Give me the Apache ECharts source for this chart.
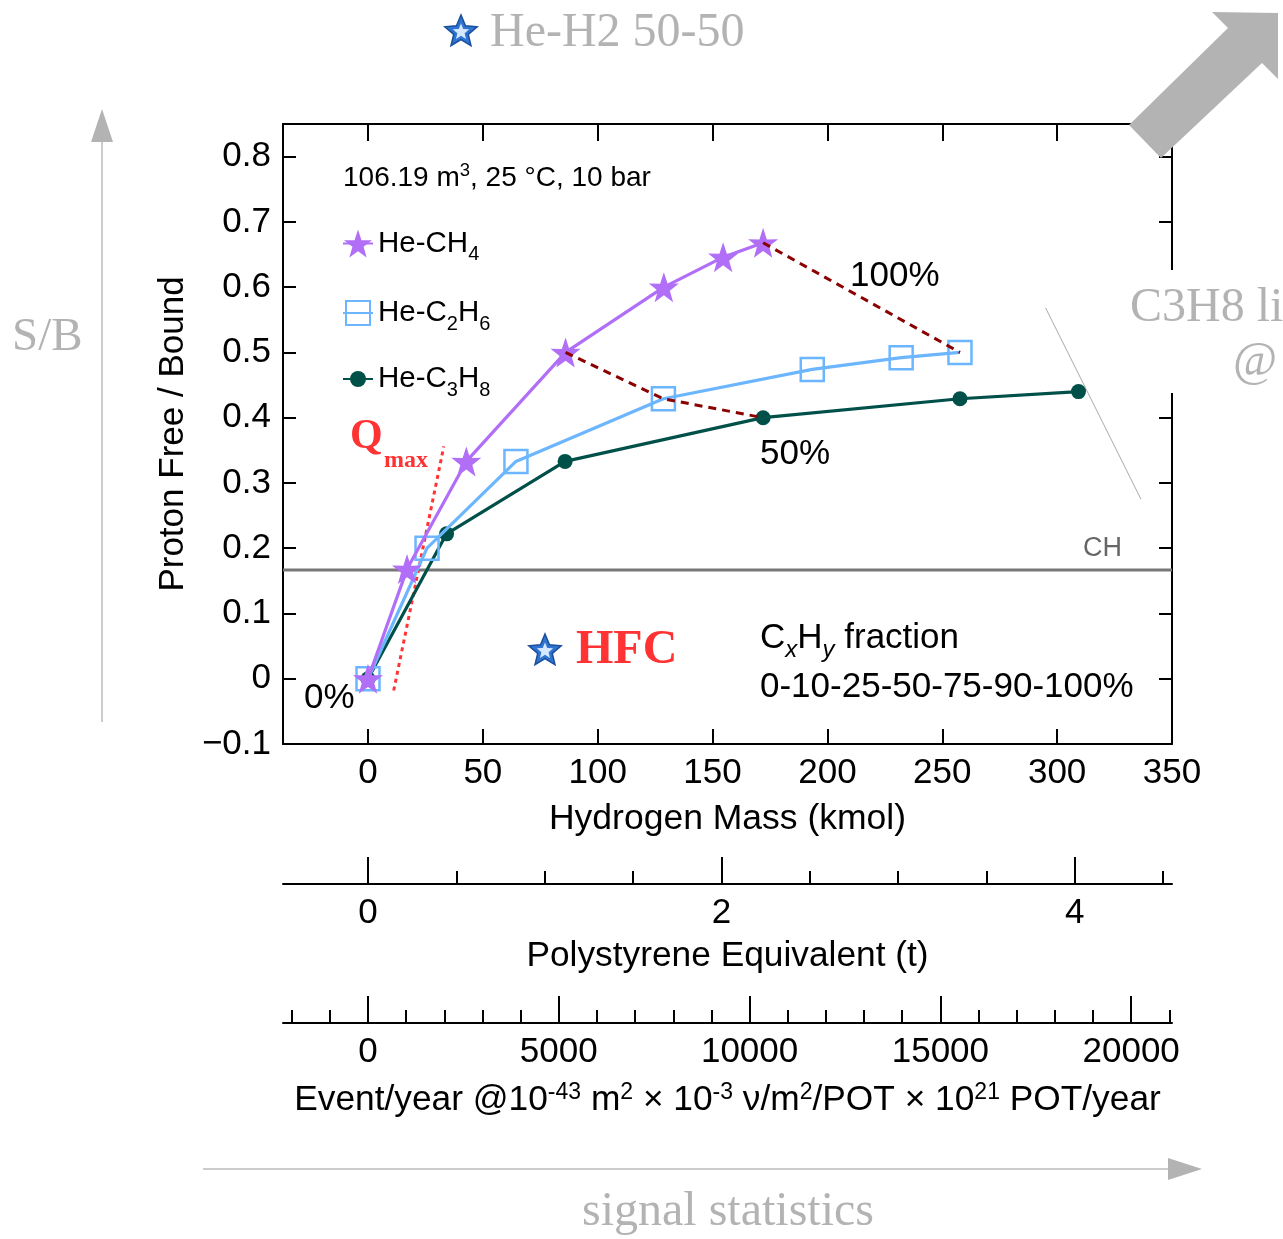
<!DOCTYPE html>
<html>
<head>
<meta charset="utf-8">
<script src="https://cdn.jsdelivr.net/npm/echarts@6/dist/echarts.min.js"></script>
<style>
  html, body { margin: 0; padding: 0; background: #fff; }
  #chart { width: 1283px; height: 1239px; }
</style>
</head>
<body>
<div id="chart"></div>
<script>
// axis ticks
const xTicks = [0, 50, 100, 150, 200, 250, 300, 350];
const yTicks = [-0.1, 0, 0.1, 0.2, 0.3, 0.4, 0.5, 0.6, 0.7, 0.8];
const psMajor = [0, 2, 4];
const psMinor = [0.5, 1, 1.5, 2.5, 3, 3.5, 4.5];
const evMajor = [0, 5000, 10000, 15000, 20000];
const evMinor = [-2000, -1000, 1000, 2000, 3000, 4000, 6000, 7000, 8000, 9000,
  11000, 12000, 13000, 14000, 16000, 17000, 18000, 19000, 21000];

// hydrogen mass (kmol) vs proton free / bound
const ch4X = [0, 17, 42.8, 86, 128.8, 154.6, 172];
const ch4Y = [0, 0.168, 0.333, 0.5, 0.6, 0.646, 0.668];
const c2h6X = [0, 25.7, 64.4, 128.6, 193.4, 232.1, 257.7];
const c2h6Y = [0, 0.2, 0.333, 0.429, 0.474, 0.492, 0.5];
const c3h8X = [0, 34.2, 85.8, 172, 257.7, 309.3];
const c3h8Y = [0, 0.222, 0.333, 0.4, 0.429, 0.44];

const qmaxX = [11.2, 33];
const qmaxY = [-0.018, 0.356];
const slantX = [295, 336.5];
const slantY = [0.568, 0.275];
const chLevel = 0.1667;

const xMin = -37, xMax = 350;
const psPerKmol = 0.013;   // t of polystyrene per kmol H
const evPerKmol = 60.2;    // events/year per kmol H

const pairs = (xs, ys) => xs.map((x, i) => [x, ys[i]]);
const line50 = [[ch4X[3], ch4Y[3]], [c2h6X[3], c2h6Y[3]], [c3h8X[3], c3h8Y[3]]];
const line100 = [[ch4X[6], ch4Y[6]], [c2h6X[6], c2h6Y[6]]];

const SANS = 'Liberation Sans';
const SERIF = 'Liberation Serif';
const starPath = 'path://M50,0 L61.8,35.1 L97.6,34.5 L69,56 L79.4,90.5 L50,70 L20.6,90.5 L31,56 L2.4,34.5 L38.2,35.1 Z';
const purple = '#b16ef7', blue = '#6cb6ff', teal = '#00504a';
const black = { color: '#000', width: 2 };

const chart = echarts.init(document.getElementById('chart'));

// one legend per series so each icon gets its own size
function legendAt(centerY, iconH, name) {
  return {
    data: [name], left: 342, top: centerY - iconH / 2, orient: 'vertical', padding: 0,
    itemWidth: 30, itemHeight: iconH, selectedMode: false,
    formatter: n => ({
      'He-CH4': '{a|He-CH}{s|4}',
      'He-C2H6': '{a|He-C}{s|2}{a|H}{s|6}',
      'He-C3H8': '{a|He-C}{s|3}{a|H}{s|8}'
    })[n],
    textStyle: {
      rich: {
        a: { fontFamily: SANS, fontSize: 29.5, color: '#000' },
        s: { fontFamily: SANS, fontSize: 20, color: '#000', padding: [22, 0, 0, 0] }
      }
    }
  };
}

function starGraphic(cx, cy, r) {
  const pts = [], inner = [];
  for (let i = 0; i < 10; i++) {
    const a = -Math.PI / 2 + i * Math.PI / 5;
    const rr = i % 2 === 0 ? r : r * 0.45;
    pts.push([cx + rr * Math.cos(a), cy + rr * Math.sin(a)]);
    inner.push([cx + rr * 0.5 * Math.cos(a), cy + rr * 0.5 * Math.sin(a)]);
  }
  return [
    { type: 'polygon', shape: { points: pts }, style: { fill: '#2f74d0', stroke: '#1a4f9c', lineWidth: 1.5 } },
    { type: 'polygon', shape: { points: inner }, style: { fill: '#d6e8ff' } }
  ];
}

function txt(x, y, text, size, opts, z) {
  return {
    type: 'text', x: x, y: y, z: z || 10,
    style: Object.assign({
      text: text, fontSize: size, fontFamily: SANS, fill: '#000',
      align: 'left', verticalAlign: 'middle'
    }, opts || {})
  };
}

const option = {
  animation: false,
  backgroundColor: '#fff',
  grid: [
    { left: 283, top: 124, width: 889, height: 620 },
    { left: 283, top: 883, width: 889, height: 1 },
    { left: 283, top: 1022, width: 889, height: 1 }
  ],
  xAxis: [
    {
      gridIndex: 0, type: 'value', min: xMin, max: xMax, position: 'bottom',
      axisLine: { onZero: false, lineStyle: black },
      axisTick: { inside: true, length: 15, customValues: xTicks, lineStyle: black },
      axisLabel: { customValues: xTicks, fontFamily: SANS, fontSize: 35, color: '#000', margin: 12 },
      splitLine: { show: false },
      name: 'Hydrogen Mass (kmol)', nameLocation: 'middle', nameGap: 57,
      nameTextStyle: { fontFamily: SANS, fontSize: 35.5, color: '#000' }
    },
    {
      gridIndex: 0, type: 'value', min: xMin, max: xMax, position: 'top',
      axisLine: { onZero: false, lineStyle: black },
      axisTick: { inside: true, length: 17, customValues: xTicks.slice(0, 7), lineStyle: black },
      axisLabel: { show: false }, splitLine: { show: false }
    },
    {
      gridIndex: 1, type: 'value', min: xMin * psPerKmol, max: xMax * psPerKmol, position: 'bottom',
      axisLine: { onZero: false, lineStyle: black },
      axisTick: { inside: true, length: 27, customValues: psMajor, lineStyle: black },
      axisLabel: { customValues: psMajor, fontFamily: SANS, fontSize: 35, color: '#000', margin: 12 },
      splitLine: { show: false },
      name: 'Polystyrene Equivalent (t)', nameLocation: 'middle', nameGap: 55,
      nameTextStyle: { fontFamily: SANS, fontSize: 35.3, color: '#000' }
    },
    {
      gridIndex: 1, type: 'value', min: xMin * psPerKmol, max: xMax * psPerKmol, position: 'bottom',
      axisLine: { show: false, onZero: false },
      axisTick: { inside: true, length: 13, customValues: psMinor, lineStyle: black },
      axisLabel: { show: false }, splitLine: { show: false }
    },
    {
      gridIndex: 2, type: 'value', min: xMin * evPerKmol, max: xMax * evPerKmol, position: 'bottom',
      axisLine: { onZero: false, lineStyle: black },
      axisTick: { inside: true, length: 27, customValues: evMajor, lineStyle: black },
      axisLabel: {
        customValues: evMajor, fontFamily: SANS, fontSize: 35, color: '#000', margin: 12,
        formatter: v => String(v)
      },
      splitLine: { show: false },
      name: '{t|Event/year @10}{p|-43}{t| m}{p|2}{t| \u00d7 10}{p|-3}{t| \u03bd/m}{p|2}{t|/POT \u00d7 10}{p|21}{t| POT/year}',
      nameLocation: 'middle', nameGap: 58,
      nameTextStyle: {
        rich: {
          t: { fontFamily: SANS, fontSize: 35.3, color: '#000' },
          p: { fontFamily: SANS, fontSize: 23, color: '#000', padding: [0, 0, 16, 0] }
        }
      }
    },
    {
      gridIndex: 2, type: 'value', min: xMin * evPerKmol, max: xMax * evPerKmol, position: 'bottom',
      axisLine: { show: false, onZero: false },
      axisTick: { inside: true, length: 13, customValues: evMinor, lineStyle: black },
      axisLabel: { show: false }, splitLine: { show: false }
    }
  ],
  yAxis: [
    {
      gridIndex: 0, type: 'value', min: -0.1, max: 0.85, position: 'left',
      axisLine: { show: true, onZero: false, lineStyle: black },
      axisTick: { show: true, inside: true, length: 13, customValues: yTicks, lineStyle: black },
      axisLabel: {
        customValues: yTicks, fontFamily: SANS, fontSize: 35, color: '#000', margin: 12,
        formatter: v => v < 0 ? '\u2212' + Math.abs(v).toFixed(1) : (v === 0 ? '0' : v.toFixed(1))
      },
      splitLine: { show: false },
      name: 'Proton Free / Bound', nameLocation: 'middle', nameRotate: 90, nameGap: 86,
      nameTextStyle: { fontFamily: SANS, fontSize: 35, color: '#000' }
    },
    {
      gridIndex: 0, type: 'value', min: -0.1, max: 0.85, position: 'right',
      axisLine: { show: true, onZero: false, lineStyle: black },
      axisTick: { show: true, inside: true, length: 13, customValues: yTicks, lineStyle: black },
      axisLabel: { show: false }, splitLine: { show: false }
    },
    { gridIndex: 1, type: 'value', show: false },
    { gridIndex: 2, type: 'value', show: false }
  ],
  legend: [
    legendAt(246, 35, 'He-CH4'),
    legendAt(313, 30, 'He-C2H6'),
    legendAt(374, 20, 'He-C3H8')
  ],
  series: [
    {
      name: 'CH', type: 'line', data: [[xMin, chLevel], [xMax, chLevel]],
      symbol: 'none', lineStyle: { color: '#777', width: 3 }, z: 1, silent: true
    },
    {
      name: 'slant', type: 'line', data: pairs(slantX, slantY),
      symbol: 'none', lineStyle: { color: '#aaa', width: 1 }, z: 1, silent: true
    },
    {
      name: 'Qmax', type: 'line', data: pairs(qmaxX, qmaxY),
      symbol: 'none', lineStyle: { color: '#ff3333', width: 3, type: [4, 4] }, z: 3, silent: true
    },
    {
      name: 'He-C3H8', type: 'line', data: pairs(c3h8X, c3h8Y),
      symbol: 'circle', symbolSize: 15,
      itemStyle: { color: teal }, lineStyle: { color: teal, width: 3.2 }, z: 4
    },
    {
      name: 'He-C2H6', type: 'line', data: pairs(c2h6X, c2h6Y),
      symbol: 'rect', symbolSize: 23,
      itemStyle: { color: 'rgba(255,255,255,0)', borderColor: blue, borderWidth: 2.5 },
      lineStyle: { color: blue, width: 3.2 }, z: 5
    },
    {
      name: 'He-CH4', type: 'line', data: pairs(ch4X, ch4Y),
      symbol: starPath, symbolSize: 30,
      itemStyle: { color: purple }, lineStyle: { color: purple, width: 3.2 }, z: 6
    },
    {
      name: '50%', type: 'line', data: line50,
      symbol: 'none', lineStyle: { color: '#8b0000', width: 3, type: [8, 6] }, z: 7, silent: true
    },
    {
      name: '100%', type: 'line', data: line100,
      symbol: 'none', lineStyle: { color: '#8b0000', width: 3, type: [8, 6] }, z: 7, silent: true
    }
  ],
  graphic: [
    // inside annotations
    txt(343, 178, '{a|106.19 m}{s|3}{a|, 25 \u00b0C, 10 bar}', 28, {
      rich: {
        a: { fontFamily: SANS, fontSize: 28, fill: '#000' },
        s: { fontFamily: SANS, fontSize: 18.5, fill: '#000', padding: [0, 0, 14, 0] }
      }
    }),
    txt(850, 276, '100%', 35),
    txt(760, 454, '50%', 35),
    txt(304, 698, '0%', 35),
    txt(1083, 549, 'CH', 27, { fill: '#666' }),
    txt(760, 638, '{a|C}{i|x}{a|H}{i|y}{a| fraction}', 35, {
      rich: {
        a: { fontFamily: SANS, fontSize: 35, fill: '#000' },
        i: { fontFamily: SANS, fontSize: 24, fontStyle: 'italic', fill: '#000', padding: [24, 0, 0, 0] }
      }
    }),
    txt(760, 687, '0-10-25-50-75-90-100%', 35),
    txt(350, 437, 'Q', 42, { fontFamily: SERIF, fontWeight: 'bold', fill: '#ff3333' }),
    txt(384, 461, 'max', 24, { fontFamily: SERIF, fontWeight: 'bold', fill: '#ff3333' }),
    txt(576, 651, 'HFC', 48, { fontFamily: SERIF, fontWeight: 'bold', fill: '#ff3333' }),
    ...starGraphic(545, 651, 17),
    // outside decorations
    ...starGraphic(461, 32, 17),
    txt(490, 33, 'He-H2 50-50', 48, { fontFamily: SERIF, fill: '#b3b3b3' }),
    txt(12, 338, 'S/B', 47, { fontFamily: SERIF, fill: '#b3b3b3' }),
    { type: 'rect', shape: { x: 1124, y: 270, width: 159, height: 123 }, style: { fill: '#fff' }, z: 100 },
    txt(1130, 308, 'C3H8 li', 48, { fontFamily: SERIF, fill: '#b3b3b3' }, 101),
    txt(1255, 362, '@', 48, { fontFamily: SERIF, fill: '#b3b3b3', align: 'center' }, 101),
    txt(728, 1212, 'signal statistics', 48, { fontFamily: SERIF, fill: '#b3b3b3', align: 'center' }),
    { type: 'line', shape: { x1: 102, y1: 722, x2: 102, y2: 140 }, style: { stroke: '#cccccc', lineWidth: 2 } },
    { type: 'polygon', shape: { points: [[102, 109], [113, 142], [91, 142]] }, style: { fill: '#b3b3b3' } },
    { type: 'line', shape: { x1: 203, y1: 1169, x2: 1170, y2: 1169 }, style: { stroke: '#cccccc', lineWidth: 2 } },
    { type: 'polygon', shape: { points: [[1202, 1169], [1168, 1158], [1168, 1180]] }, style: { fill: '#b3b3b3' } },
    {
      type: 'polygon',
      shape: { points: [[1129, 125], [1228, 28], [1212, 12], [1278, 13], [1278, 79], [1262, 63], [1161, 158]] },
      style: { fill: '#b3b3b3' }, z: 100
    }
  ]
};

chart.setOption(option);
</script>
</body>
</html>
